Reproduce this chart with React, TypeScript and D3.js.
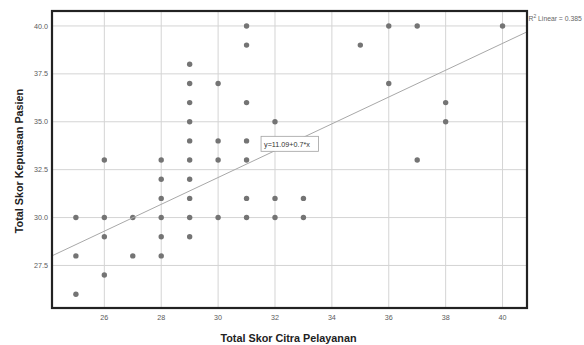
import React, { useRef, useEffect } from "react";
import * as d3 from "d3";

// Total Skor Citra Pelayanan (x) vs Total Skor Kepuasan Pasien (y)
const citraScores = [
  25, 25, 25,
  26, 26, 26, 26,
  27, 27,
  28, 28, 28, 28, 28, 28,
  29, 29, 29, 29, 29, 29, 29, 29, 29, 29,
  30, 30, 30, 30,
  31, 31, 31, 31, 31, 31, 31,
  32, 32, 32,
  33, 33,
  35,
  36, 36,
  37, 37,
  38, 38,
  40,
];
const kepuasanScores = [
  30, 28, 26,
  33, 30, 29, 27,
  30, 28,
  33, 32, 31, 30, 29, 28,
  38, 37, 36, 35, 34, 33, 32, 31, 30, 29,
  37, 34, 33, 30,
  40, 39, 36, 34, 33, 31, 30,
  35, 31, 30,
  31, 30,
  39,
  40, 37,
  40, 33,
  36, 35,
  40,
];
const xTicks = [26, 28, 30, 32, 34, 36, 38, 40];
const yTicks = [27.5, 30, 32.5, 35, 37.5, 40];
const fitIntercept = 11.09;
const fitSlope = 0.7;
const fitLabel = "y=11.09+0.7*x";
const rSquared = "0.385";

const ScatterFit = () => {
  const chartRef = useRef<SVGSVGElement>(null);

  useEffect(() => {
    const svg = d3.select(chartRef.current);
    svg.selectAll("*").remove();

    const left = 52;
    const top = 11;
    const right = 527;
    const bottom = 308;
    const font = "Liberation Sans, Arial, sans-serif";

    const x = d3.scaleLinear().domain([24.16, 40.86]).range([left, right]);
    const y = d3.scaleLinear().domain([25.28, 40.78]).range([bottom, top]);

    const data = citraScores.map((c, i) => ({ x: c, y: kepuasanScores[i] }));

    // grid
    svg
      .append("g")
      .selectAll("line")
      .data(xTicks)
      .enter()
      .append("line")
      .attr("x1", (d) => x(d))
      .attr("x2", (d) => x(d))
      .attr("y1", top)
      .attr("y2", bottom)
      .attr("stroke", "#d4d4d4")
      .attr("stroke-width", 1);
    svg
      .append("g")
      .selectAll("line")
      .data(yTicks)
      .enter()
      .append("line")
      .attr("x1", left)
      .attr("x2", right)
      .attr("y1", (d) => y(d))
      .attr("y2", (d) => y(d))
      .attr("stroke", "#d4d4d4")
      .attr("stroke-width", 1);

    // points
    svg
      .append("g")
      .selectAll("circle")
      .data(data)
      .enter()
      .append("circle")
      .attr("cx", (d) => x(d.x))
      .attr("cy", (d) => y(d.y))
      .attr("r", 2.7)
      .attr("fill", "#747474");

    // fit line
    const [x0, x1] = x.domain();
    svg
      .append("line")
      .attr("x1", x(x0))
      .attr("y1", y(fitIntercept + fitSlope * x0))
      .attr("x2", x(x1))
      .attr("y2", y(fitIntercept + fitSlope * x1))
      .attr("stroke", "#a8a8a8")
      .attr("stroke-width", 1);

    // equation label
    const lx = x(31.51);
    const ly = y(34.24);
    svg
      .append("rect")
      .attr("x", lx)
      .attr("y", ly)
      .attr("width", 57.5)
      .attr("height", 15)
      .attr("fill", "#fff")
      .attr("stroke", "#a0a0a0")
      .attr("stroke-width", 0.8);
    svg
      .append("text")
      .attr("x", lx + 3)
      .attr("y", ly + 10.5)
      .attr("font-family", font)
      .attr("font-size", 7.2)
      .attr("fill", "#333")
      .text(fitLabel);

    // frame
    svg
      .append("rect")
      .attr("x", left)
      .attr("y", top)
      .attr("width", right - left)
      .attr("height", bottom - top)
      .attr("fill", "none")
      .attr("stroke", "#222")
      .attr("stroke-width", 2.2);

    // tick labels
    svg
      .append("g")
      .selectAll("text")
      .data(xTicks)
      .enter()
      .append("text")
      .attr("x", (d) => x(d))
      .attr("y", 320)
      .attr("text-anchor", "middle")
      .attr("font-family", font)
      .attr("font-size", 7.2)
      .attr("fill", "#5a5a5a")
      .text((d) => d);
    svg
      .append("g")
      .selectAll("text")
      .data(yTicks)
      .enter()
      .append("text")
      .attr("x", 48)
      .attr("y", (d) => y(d) + 2.6)
      .attr("text-anchor", "end")
      .attr("font-family", font)
      .attr("font-size", 7.2)
      .attr("fill", "#5a5a5a")
      .text((d) => d3.format(".1f")(d));

    // axis titles
    svg
      .append("text")
      .attr("x", 288.5)
      .attr("y", 341.5)
      .attr("text-anchor", "middle")
      .attr("font-family", font)
      .attr("font-weight", "bold")
      .attr("font-size", 10.8)
      .attr("fill", "#222")
      .text("Total Skor Citra Pelayanan");
    svg
      .append("text")
      .attr("transform", "translate(23,161) rotate(-90)")
      .attr("text-anchor", "middle")
      .attr("font-family", font)
      .attr("font-weight", "bold")
      .attr("font-size", 10.8)
      .attr("fill", "#222")
      .text("Total Skor Kepuasan Pasien");

    // R squared
    const r2 = svg
      .append("text")
      .attr("x", 528.5)
      .attr("y", 21)
      .attr("font-family", font)
      .attr("font-size", 6.8)
      .attr("fill", "#666");
    r2.append("tspan").text("R");
    r2.append("tspan").attr("dy", -3).attr("font-size", 5).text("2");
    r2.append("tspan").attr("dy", 3).text(` Linear = ${rSquared}`);
  }, []);

  return (
    <svg
      ref={chartRef}
      width={584}
      height={345}
      style={{ position: "absolute", left: 0, top: 0, background: "#fff" }}
    />
  );
};

export default function App() {
  return <ScatterFit />;
}
